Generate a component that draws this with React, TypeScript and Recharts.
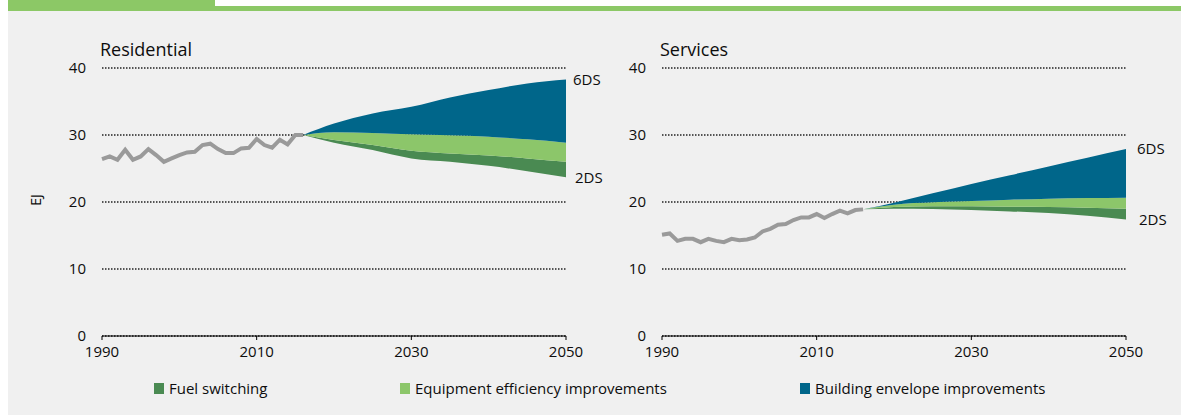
import React from "react";
import {
  ComposedChart,
  Area,
  Line,
  XAxis,
  YAxis,
  CartesianGrid,
  ReferenceDot,
} from "recharts";

// historical years + projection years
const histYears = [
  1990, 1991, 1992, 1993, 1994, 1995, 1996, 1997, 1998, 1999, 2000, 2001, 2002, 2003,
  2004, 2005, 2006, 2007, 2008, 2009, 2010, 2011, 2012, 2013, 2014, 2015, 2016,
];
const projYears = [2016, 2020, 2025, 2030, 2035, 2040, 2045, 2050];

// Residential (EJ)
const resHist = [
  26.4, 26.8, 26.3, 27.8, 26.3, 26.8, 27.9, 27.0, 26.0, 26.5, 27.0, 27.4, 27.5, 28.5,
  28.7, 27.9, 27.3, 27.3, 28.0, 28.1, 29.4, 28.5, 28.1, 29.3, 28.6, 30.0, 30.0,
];
const res2DS = [30.0, 28.85, 27.75, 26.5, 26.0, 25.4, 24.6, 23.7];
const resAfterFuel = [30.0, 29.25, 28.5, 27.65, 27.25, 26.95, 26.5, 26.0];
const resAfterEff = [30.0, 30.4, 30.3, 30.1, 29.95, 29.75, 29.35, 28.85];
const res6DS = [30.0, 31.7, 33.2, 34.2, 35.6, 36.7, 37.7, 38.3];

// Services (EJ)
const svcHist = [
  15.1, 15.3, 14.2, 14.5, 14.5, 14.0, 14.5, 14.2, 14.0, 14.5, 14.3, 14.4, 14.7, 15.6,
  16.0, 16.6, 16.7, 17.3, 17.7, 17.7, 18.2, 17.6, 18.2, 18.7, 18.3, 18.8, 18.9,
];
const svc2DS = [18.9, 19.0, 18.95, 18.8, 18.6, 18.35, 17.95, 17.4];
const svcAfterFuel = [18.9, 19.25, 19.35, 19.35, 19.3, 19.25, 19.15, 19.0];
const svcAfterEff = [18.9, 19.6, 19.95, 20.15, 20.35, 20.5, 20.6, 20.65];
const svc6DS = [18.9, 19.9, 21.3, 22.7, 24.0, 25.3, 26.6, 27.9];

const xTicks = [1990, 2010, 2030, 2050];
const yTicks = [0, 10, 20, 30, 40];

const legendItems = [
  { name: "Fuel switching", color: "#4a8a52", x: 154 },
  { name: "Equipment efficiency improvements", color: "#8cc66a", x: 400 },
  { name: "Building envelope improvements", color: "#00668a", x: 800 },
];

const GREEN_DARK = "#4a8a52";
const GREEN_LIGHT = "#8cc66a";
const BLUE = "#00668a";
const TEXT = "#0d0d0d";

function buildData(
  hist: number[],
  low: number[],
  afterFuel: number[],
  afterEff: number[],
  high: number[]
) {
  const rows: Record<number, any> = {};
  histYears.forEach((y, i) => {
    rows[y] = { year: y, hist: hist[i] };
  });
  projYears.forEach((y, i) => {
    rows[y] = {
      ...(rows[y] || { year: y }),
      fuel: [low[i], afterFuel[i]],
      eff: [afterFuel[i], afterEff[i]],
      env: [afterEff[i], high[i]],
    };
  });
  return Object.values(rows).sort((a: any, b: any) => a.year - b.year);
}

interface PanelProps {
  data: any[];
  width: number;
  yWidth: number;
  right: number;
  top6: number;
  low2: number;
  labelOffset: number;
}

function Panel({ data, width, yWidth, right, top6, low2, labelOffset }: PanelProps) {
  return (
    <ComposedChart
      width={width}
      height={330}
      data={data}
      margin={{ top: 28, right, bottom: 4, left: 0 }}
    >
      <CartesianGrid
        vertical={false}
        stroke="#222"
        strokeWidth={1.3}
        strokeDasharray="1.5 1.5"
      />
      <XAxis
        dataKey="year"
        type="number"
        domain={[1990, 2050]}
        ticks={xTicks}
        height={30}
        tickSize={4}
        tickMargin={6}
        axisLine={{ stroke: "#000" }}
        tickLine={{ stroke: "#000" }}
        tick={{ fontSize: 15, fill: TEXT }}
      />
      <YAxis
        domain={[0, 40]}
        ticks={yTicks}
        width={yWidth}
        axisLine={false}
        tickLine={false}
        tickSize={0}
        tickMargin={16}
        tick={{ fontSize: 15, fill: TEXT }}
      />
      <Area
        type="monotone"
        dataKey="fuel"
        fill={GREEN_DARK}
        fillOpacity={1}
        stroke="none"
        isAnimationActive={false}
      />
      <Area
        type="monotone"
        dataKey="eff"
        fill={GREEN_LIGHT}
        fillOpacity={1}
        stroke="none"
        isAnimationActive={false}
      />
      <Area
        type="monotone"
        dataKey="env"
        fill={BLUE}
        fillOpacity={1}
        stroke="none"
        isAnimationActive={false}
      />
      <Line
        type="linear"
        dataKey="hist"
        stroke="#9a9a9a"
        strokeWidth={4}
        dot={false}
        isAnimationActive={false}
      />
      <ReferenceDot
        x={2050}
        y={top6}
        r={0}
        label={{ value: "6DS", position: "right", offset: labelOffset, fontSize: 15, fill: TEXT }}
      />
      <ReferenceDot
        x={2050}
        y={low2}
        r={0}
        label={{ value: "2DS", position: "right", offset: labelOffset + 2, fontSize: 15, fill: TEXT }}
      />
    </ComposedChart>
  );
}

export default function App() {
  const resData = buildData(resHist, res2DS, resAfterFuel, resAfterEff, res6DS);
  const svcData = buildData(svcHist, svc2DS, svcAfterFuel, svcAfterEff, svc6DS);

  return (
    <div
      style={{
        position: "absolute",
        left: 0,
        top: 0,
        width: 1181,
        height: 415,
        background: "#fff",
        overflow: "hidden",
        fontFamily: "'Open Sans', sans-serif",
        color: TEXT,
      }}
    >
      <div style={{ position: "absolute", left: 8, top: 0, width: 207, height: 11, background: "#8cc866" }} />
      <div style={{ position: "absolute", left: 215, top: 6, right: 0, height: 5, background: "#8cc866" }} />
      <div style={{ position: "absolute", left: 8, top: 11, right: 0, bottom: 0, background: "#f0f0f0" }} />

      <div style={{ position: "absolute", left: 100, top: 39, fontSize: 18, lineHeight: "20px" }}>
        Residential
      </div>
      <div style={{ position: "absolute", left: 660, top: 39, fontSize: 18, lineHeight: "20px" }}>
        Services
      </div>
      <div
        style={{
          position: "absolute",
          left: 26,
          top: 192,
          width: 20,
          height: 16,
          fontSize: 14,
          lineHeight: "16px",
          textAlign: "center",
          transform: "rotate(-90deg)",
        }}
      >
        EJ
      </div>

      <div style={{ position: "absolute", left: 40, top: 40 }}>
        <Panel
          data={resData}
          width={580}
          yWidth={62}
          right={54}
          top6={res6DS[res6DS.length - 1]}
          low2={res2DS[res2DS.length - 1]}
          labelOffset={7}
        />
      </div>
      <div style={{ position: "absolute", left: 620, top: 40 }}>
        <Panel
          data={svcData}
          width={561}
          yWidth={42}
          right={55}
          top6={svc6DS[svc6DS.length - 1]}
          low2={svc2DS[svc2DS.length - 1]}
          labelOffset={11}
        />
      </div>

      {legendItems.map((it) => (
        <div key={it.name}>
          <div
            style={{
              position: "absolute",
              left: it.x,
              top: 383,
              width: 10,
              height: 11,
              background: it.color,
            }}
          />
          <div
            style={{
              position: "absolute",
              left: it.x + 15,
              top: 378,
              fontSize: 15,
              lineHeight: "20px",
              whiteSpace: "nowrap",
            }}
          >
            {it.name}
          </div>
        </div>
      ))}
    </div>
  );
}
